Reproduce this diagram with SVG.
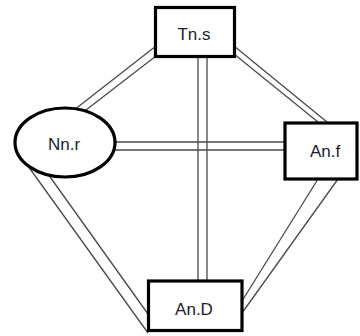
<svg xmlns="http://www.w3.org/2000/svg" width="360" height="336" viewBox="0 0 360 336">
  <style>
    .bg { fill: #ffffff; }
    .edge line { stroke: #4a4a4a; stroke-width: 1.3; fill: none; }
    .node rect, .node ellipse { fill: #ffffff; stroke: #000000; stroke-width: 3.2; }
    .node text { font-family: "Liberation Sans", Arial, sans-serif; font-size: 17px; fill: #1c1c30; text-anchor: middle; }
  </style>
  <rect class="bg" x="0" y="0" width="360" height="336"/>

  <!-- double-line connectors -->
  <g id="connectors" class="edge">
    <!-- Tn.s - Nn.r -->
    <line x1="156" y1="46" x2="74" y2="110"/>
    <line x1="156" y1="56" x2="86" y2="110"/>
    <!-- Tn.s - An.f -->
    <line x1="234" y1="46" x2="327" y2="122"/>
    <line x1="234" y1="54" x2="318" y2="122"/>
    <!-- Tn.s - An.D -->
    <line x1="198" y1="56" x2="198" y2="281"/>
    <line x1="207" y1="56" x2="207" y2="281"/>
    <!-- Nn.r - An.f -->
    <line x1="110" y1="142" x2="285" y2="142"/>
    <line x1="110" y1="150" x2="285" y2="150"/>
    <!-- Nn.r - An.D -->
    <line x1="28" y1="166" x2="148" y2="333"/>
    <line x1="48" y1="174" x2="148" y2="314"/>
    <!-- An.f - An.D -->
    <line x1="318" y1="179" x2="242" y2="301"/>
    <line x1="338" y1="179" x2="242" y2="313"/>
  </g>

  <g id="node-tns" class="node">
    <rect x="155.5" y="7.5" width="79" height="49"/>
    <text x="194" y="40">Tn.s</text>
  </g>

  <g id="node-nnr" class="node">
    <ellipse cx="65" cy="142.5" rx="50" ry="34.5"/>
    <text x="64" y="150">Nn.r</text>
  </g>

  <g id="node-anf" class="node">
    <rect x="285" y="123" width="72" height="56"/>
    <text x="325" y="157">An.f</text>
  </g>

  <g id="node-and" class="node">
    <rect x="148.5" y="281" width="93.5" height="49.5"/>
    <text x="194" y="315">An.D</text>
  </g>
</svg>
